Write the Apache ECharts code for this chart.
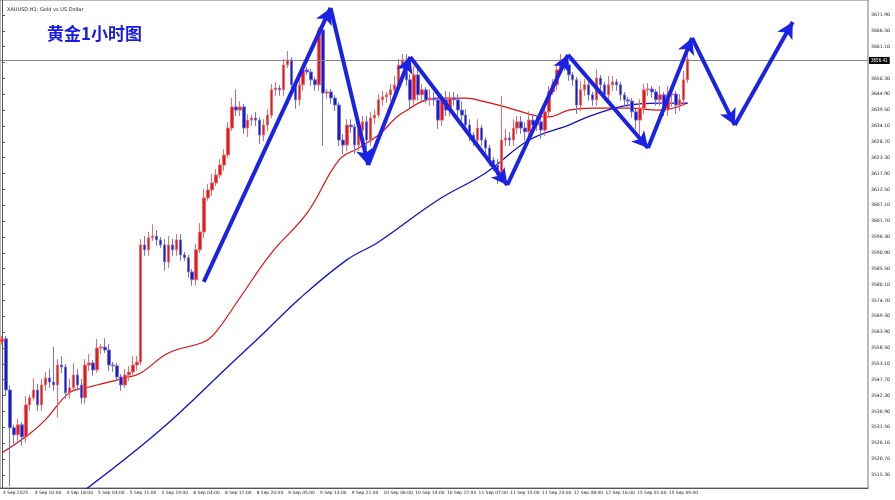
<!DOCTYPE html>
<html><head><meta charset="utf-8">
<script src="https://cdn.jsdelivr.net/npm/echarts@6/dist/echarts.min.js"></script>
<style>html,body{margin:0;padding:0;background:#fff}#c{width:895px;height:500px}</style>
</head><body><div id="c"></div>
<script>
const firstOpen = 3560.6;
const closes = [
3561.6,3544.2,3531.3,3528.9,3532.3,3528.2,3539.1,3541.5,3544.2,3539.1,
3545.9,3548.3,3546.9,3545.9,3552.7,3552.0,3543.2,3544.9,3549.3,3545.9,
3541.5,3552.7,3553.4,3551.0,3558.5,3558.8,3557.8,3552.7,3552.4,3548.6,
3545.9,3549.3,3550.3,3552.7,3553.7,3593.6,3591.9,3596.0,3596.6,3595.3,
3593.6,3587.8,3593.6,3591.9,3595.3,3590.2,3589.2,3584.4,3581.7,3591.9,
3598.0,3609.6,3612.3,3614.7,3617.4,3620.8,3624.2,3633.4,3640.6,3639.5,
3640.6,3633.4,3636.1,3636.8,3636.1,3631.0,3634.4,3637.8,3646.4,3647.0,
3646.4,3654.9,3656.6,3648.1,3643.0,3648.1,3653.2,3652.5,3649.8,3648.1,
3666.8,3645.3,3645.7,3643.6,3641.2,3629.3,3627.6,3634.4,3633.8,3627.6,
3632.7,3635.5,3629.3,3636.8,3637.8,3643.0,3644.0,3644.7,3646.4,3648.1,
3654.9,3656.6,3649.8,3643.0,3651.5,3644.7,3646.4,3643.0,3643.6,3643.0,
3636.1,3643.0,3639.5,3643.6,3643.0,3639.5,3637.8,3634.4,3631.0,3629.3,
3633.4,3629.3,3626.6,3622.5,3620.8,3617.4,3629.3,3630.0,3629.3,3633.4,
3635.5,3633.4,3632.1,3636.1,3634.4,3635.5,3632.7,3638.9,3645.7,3648.1,
3653.2,3656.6,3654.9,3651.5,3649.8,3641.2,3646.4,3648.1,3644.7,3643.0,
3650.4,3648.1,3644.7,3648.1,3649.1,3648.1,3644.7,3643.0,3642.6,3638.9,
3636.1,3640.2,3646.4,3646.7,3645.7,3643.0,3644.7,3639.5,3644.7,3645.0,
3641.2,3643.0,3649.8,3656.9];
const wickUp = [
1,1,1.5,1,2,1,3,1,4,2, 2,2,3,12,2,3,1,3,4,2, 2,2,3,1,3,1,3,2,1,1,
1,2,2,3,2,2,3,2,4,2, 1,2,3,2,2,2,1,1,1,2, 3,3,2,3,2,2,2,2,3,6,
2,1,2,1,2,1,2,2,2,2, 1,2,3,1,1,2,2,1,1,1, 1,1,1,1,1,1,2,2,2,1,
3,2,2,2,2,2,2,1,2,3, 2,2,2,2,3,2,2,1,3,2, 1,2,3,2,2,2,3,2,2,1,
3,1,1,1,1,2,15,3,2,3, 2,2,2,3,2,2,2,2,2,2, 2,2,1,1,1,1,3,2,1,1,
3,1,1,3,2,1,1,1,1,1, 1,3,2,2,1,1,3,1,3,2, 1,2,3,3];
const wickDn = [
1,2,20,3,2,3,2,2,1,2, 2,2,2,2,11,2,2,2,1,2, 2,2,2,2,1,2,1,2,2,1,
2,1,2,1,2,1,2,2,1,2, 1,3,2,2,2,2,1,2,2,2, 1,2,1,2,1,1,2,1,1,2,
2,2,3,2,2,3,2,2,1,2, 2,2,1,3,3,2,2,1,2,2, 2,18,2,2,2,2,3,2,2,3,
2,2,3,2,2,1,2,2,2,2, 1,1,2,3,2,2,2,1,2,2, 3,2,2,2,2,2,2,2,2,2,
2,2,2,2,2,3,2,2,2,2, 2,2,3,2,2,2,3,2,2,1, 2,1,2,2,2,3,2,2,2,2,
2,2,2,2,2,2,2,2,2,2, 3,7,2,2,2,2,2,2,2,4, 3,2,2,1];
const redMA = [[0,3522.8],[7,3529.3],[11,3534.1],[17,3543.2],[22,3545.2],[31,3548.3],[35,3550.0],[42,3556.8],[51,3560.6],[54,3564.0],[60,3575.5],[68,3590.9],[77,3604.5],[85,3622.5],[90,3626.6],[95,3631.0],[101,3638.5],[110,3643.6],[117,3643.6],[122,3642.3],[128,3640.2],[135,3637.5],[138,3637.2],[143,3639.5],[149,3640.2],[158,3640.2],[166,3639.5],[173,3641.9]];
const blueMA = [[21,3510.2],[40,3530.6],[58,3553.4],[65,3562.2],[75,3575.2],[87,3588.5],[95,3594.6],[110,3608.9],[122,3618.1],[133,3629.3],[143,3634.4],[149,3637.8],[158,3641.2],[166,3641.9],[173,3641.9]];
const zigzag = [[50.9,3581.0],[82.9,3674.3],[92.4,3620.8],[103.0,3657.6],[127.5,3614.0],[142.8,3658.3],[163.0,3626.6],[174.1,3664.1],[184.9,3634.4],[199.5,3669.5]];
const priceTicks = [3515.30,3520.70,3526.10,3531.50,3536.90,3542.30,3547.70,3553.10,3558.50,3563.90,3569.30,3574.70,3580.10,3585.50,3590.90,3596.30,3601.70,3607.10,3612.50,3617.90,3623.30,3628.70,3634.10,3639.50,3644.90,3650.30,3655.70,3661.10,3666.50,3671.90];
const timeLabels = ["4 Sep 2025","4 Sep 10:00","4 Sep 18:00","5 Sep 03:00","5 Sep 11:00","5 Sep 19:00","8 Sep 04:00","8 Sep 12:00","8 Sep 20:00","9 Sep 05:00","9 Sep 13:00","9 Sep 21:00","10 Sep 06:00","10 Sep 14:00","10 Sep 22:00","11 Sep 07:00","11 Sep 15:00","11 Sep 23:00","12 Sep 08:00","12 Sep 16:00","15 Sep 01:00","15 Sep 09:00"];
const currentPrice = 3656.41;

const NCAT = 219;
const cats = [];
for (let i = 0; i < NCAT; i++) cats.push(i % 8 === 0 && i / 8 < timeLabels.length ? timeLabels[i / 8] : '');
const candles = closes.map((c, i) => {
  const o = i === 0 ? firstOpen : closes[i - 1];
  return [o, c, Math.min(o, c) - wickDn[i], Math.max(o, c) + wickUp[i]];
});
const segs = [];
for (let i = 0; i < zigzag.length - 1; i++) segs.push([{coord: zigzag[i]}, {coord: zigzag[i + 1]}]);
const showIdx = (i) => i % 8 === 0 && i / 8 < timeLabels.length;

const chart = echarts.init(document.getElementById('c'));
chart.setOption({
  animation: false,
  backgroundColor: '#fff',
  grid: {left: 0, right: 27, top: 0, bottom: 12, show: true, borderColor: '#777', borderWidth: 1},
  title: [
    {text: 'XAUUSD,H1: Gold vs US Dollar', left: 2, top: 2, textStyle: {fontSize: 5, fontWeight: 'normal', color: '#222', fontFamily: 'DejaVu Sans'}},
    {text: '黄金1小时图', left: 42, top: 20, textStyle: {fontSize: 17, fontWeight: 'bold', color: '#1a1ae6', fontFamily: 'Noto Sans CJK SC'}}
  ],
  xAxis: [
    {type: 'category', data: cats, boundaryGap: true,
     axisLine: {lineStyle: {color: '#555'}},
     axisTick: {interval: showIdx, length: 4, inside: false, lineStyle: {color: '#555'}, alignWithLabel: true},
     axisLabel: {interval: showIdx, align: 'left', margin: 3, fontSize: 4.4, color: '#222', fontFamily: 'DejaVu Sans', padding: [0, 0, 0, 1]},
     splitLine: {show: false}},
    {type: 'value', min: -0.5, max: NCAT - 0.5, show: false}
  ],
  yAxis: {type: 'value', position: 'right', min: 3510.8, max: 3677.0, scale: true,
    axisLine: {show: true, lineStyle: {color: '#555'}},
    axisTick: {show: true, length: 3, customValues: priceTicks, lineStyle: {color: '#555'}},
    axisLabel: {customValues: priceTicks, formatter: (v) => v.toFixed(2), margin: 3, fontSize: 4.6, color: '#222', fontFamily: 'DejaVu Sans'},
    splitLine: {show: false}},
  series: [
    {type: 'line', data: redMA, smooth: 0.4, symbol: 'none', lineStyle: {color: '#e01010', width: 1.2}, z: 2},
    {type: 'line', data: blueMA, smooth: 0.4, symbol: 'none', lineStyle: {color: '#1010d0', width: 1.3}, z: 2},
    {type: 'candlestick', data: candles, barWidth: 3, z: 3,
     itemStyle: {color: '#e41b1b', color0: '#1a1ac8', borderColor: '#ef6a6a', borderColor0: '#7070e0', borderWidth: 1},
     markLine: {silent: true, symbol: 'none', data: [{yAxis: currentPrice}],
       lineStyle: {color: '#888', width: 1, type: 'solid'},
       label: {position: 'end', formatter: currentPrice.toFixed(2), backgroundColor: '#000', color: '#fff', fontSize: 4.6, padding: [1, 2], distance: 1}}},
    {type: 'line', xAxisIndex: 1, data: [], z: 5,
     markLine: {silent: true, symbol: ['none', 'arrow'], symbolSize: [13, 16], data: segs,
       lineStyle: {color: '#1a22e6', width: 4, type: 'solid'}, label: {show: false}}}
  ]
});
</script></body></html>
